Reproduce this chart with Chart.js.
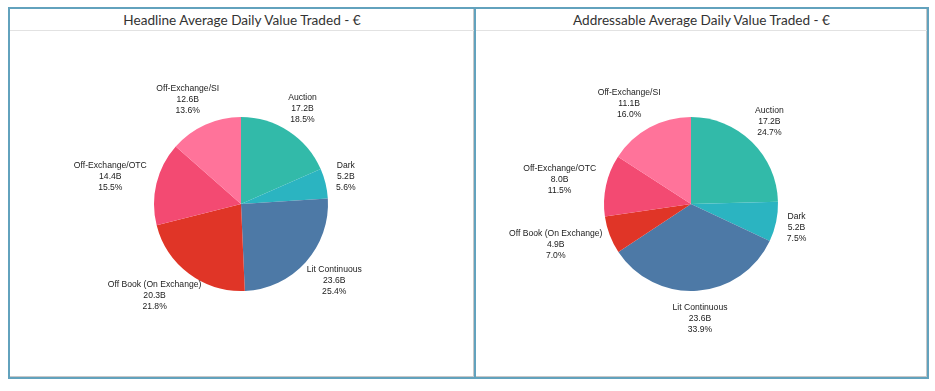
<!DOCTYPE html>
<html>
<head>
<meta charset="utf-8">
<script src="https://cdn.jsdelivr.net/npm/chart.js@4.4.1/dist/chart.umd.min.js"></script>
<style>
  body { margin: 0; background: #fff; width: 935px; height: 391px; position: relative; overflow: hidden; }
  .panel { position: absolute; top: 7px; height: 372px; border: 2px solid #62a2bd; box-sizing: border-box; box-shadow: inset -1px -1px 0 #c8c8c8; }
  .title { position: absolute; left: 0; right: 0; top: 0; height: 21px; line-height: 22px; text-align: center;
           font-family: Lato, "Open Sans", sans-serif; font-size: 13.6px; color: #333; border-bottom: 1px solid #e2e2e2; }
  canvas { position: absolute; left: 0; top: 22px; }
</style>
</head>
<body>
<div class="panel" style="left:8px; width:468px;">
  <div class="title">Headline Average Daily Value Traded - €</div>
  <canvas id="headline" width="464" height="346"></canvas>
</div>
<div class="panel" style="left:474px; width:455px;">
  <div class="title">Addressable Average Daily Value Traded - €</div>
  <canvas id="addressable" width="451" height="346"></canvas>
</div>
<script>
// categories, clockwise from 12 o'clock
const categories = ['Auction', 'Dark', 'Lit Continuous', 'Off Book (On Exchange)', 'Off-Exchange/OTC', 'Off-Exchange/SI'];
// values in billions of euro
const headlineValues = [17.2, 5.2, 23.6, 20.3, 14.4, 12.6];
const headlinePct = [18.5, 5.6, 25.4, 21.8, 15.5, 13.6];
const addressableValues = [17.2, 5.2, 23.6, 4.9, 8.0, 11.1];
const addressablePct = [24.7, 7.5, 33.9, 7.0, 11.5, 16.0];

const colors = ['#32baa9', '#2bb4c1', '#4d79a6', '#e03527', '#f34a72', '#ff739a'];

// labels outside each slice: name, value, share
const outsideLabels = {
  id: 'outsideLabels',
  afterDatasetsDraw(chart, args, opts) {
    const ctx = chart.ctx;
    const meta = chart.getDatasetMeta(0);
    ctx.save();
    ctx.font = '8.6px "Liberation Sans", Arial, sans-serif';
    ctx.fillStyle = '#222';
    ctx.textAlign = 'center';
    ctx.textBaseline = 'middle';
    const lh = 11;
    meta.data.forEach((arc, i) => {
      const p = arc.getProps(['x', 'y', 'startAngle', 'endAngle', 'outerRadius'], true);
      const mid = (p.startAngle + p.endAngle) / 2;
      const c = Math.cos(mid), s = Math.sin(mid);
      const lines = [chart.data.labels[i], chart.data.datasets[0].data[i].toFixed(1) + 'B', opts.pct[i].toFixed(1) + '%'];
      const w = Math.max(...lines.map(t => ctx.measureText(t).width));
      const h = lh * lines.length;
      const ax = p.x + (p.outerRadius + 11) * c;
      const ay = p.y + (p.outerRadius + 11) * s;
      const cx = ax + c * w / 2;
      const cy = ay + s * h / 2;
      lines.forEach((t, k) => ctx.fillText(t, cx, cy - h / 2 + lh / 2 + k * lh));
    });
    ctx.restore();
  }
};

function makePie(id, values, pct, pad) {
  return new Chart(document.getElementById(id), {
    type: 'pie',
    data: {
      labels: categories,
      datasets: [{ data: values, backgroundColor: colors, borderWidth: 0 }]
    },
    options: {
      responsive: false,
      animation: false,
      layout: { padding: pad },
      plugins: {
        legend: { display: false },
        tooltip: { enabled: false },
        outsideLabels: { pct: pct }
      }
    },
    plugins: [outsideLabels]
  });
}

// pie centres ~ (241, 204) and (691, 204), radius ~87
makePie('headline', headlineValues, headlinePct, { left: 144, right: 146, top: 86, bottom: 86 });
makePie('addressable', addressableValues, addressablePct, { left: 128, right: 149, top: 86, bottom: 86 });
</script>
</body>
</html>
